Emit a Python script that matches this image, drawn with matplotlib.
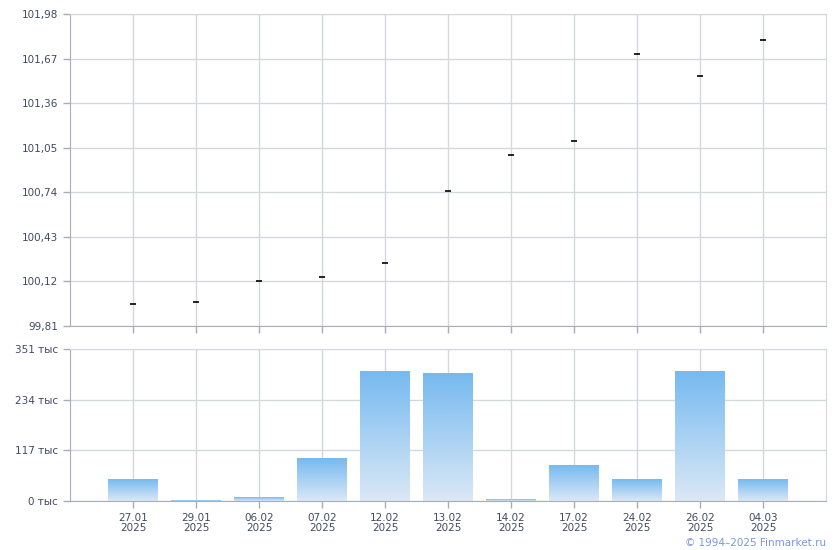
import matplotlib
matplotlib.use("Agg")
import matplotlib.pyplot as plt
import numpy as np
from matplotlib.colors import LinearSegmentedColormap

dates = ["27.01\n2025", "29.01\n2025", "06.02\n2025", "07.02\n2025", "12.02\n2025",
         "13.02\n2025", "14.02\n2025", "17.02\n2025", "24.02\n2025", "26.02\n2025", "04.03\n2025"]
prices = [99.96, 99.98, 100.12, 100.15, 100.25, 100.75, 101.00, 101.10, 101.70, 101.55, 101.80]
volumes = [48.5, 2, 7, 99, 300, 295.5, 4, 81, 48.5, 300, 48.5]  # thousands
price_ticks = [99.81, 100.12, 100.43, 100.74, 101.05, 101.36, 101.67, 101.98]
vol_ticks = [0, 117, 234, 351]

plt.rcParams['font.family'] = ['DejaVu Sans']
fig = plt.figure(figsize=(8.4, 5.5), dpi=100)
ax1 = fig.add_axes([70/840, 1-326/550, 756/840, 312/550])
ax2 = fig.add_axes([70/840, 1-501/550, 756/840, 152/550])

grid_c = "#d3d8dc"
spine_c = "#a9adb8"
text_c = "#404a60"
x = np.arange(len(dates))

for ax in (ax1, ax2):
    ax.set_xlim(-1, len(dates))
    ax.set_xticks(x)
    ax.grid(True, color=grid_c, linewidth=1)
    ax.set_axisbelow(True)
    for s in ("top", "right"):
        ax.spines[s].set_color(grid_c)
    for s in ("left", "bottom"):
        ax.spines[s].set_color(spine_c)
    ax.tick_params(axis="both", colors=spine_c, labelcolor=text_c, labelsize=7.5, length=5, width=1)

# Top: prices
ax1.plot(x, prices, linestyle="none", marker="_", markersize=5, markeredgewidth=1.2, color="black")
ax1.set_ylim(price_ticks[0], price_ticks[-1])
ax1.set_yticks(price_ticks)
ax1.set_yticklabels([f"{v:.2f}".replace(".", ",") for v in price_ticks])
ax1.set_xticklabels([])

# Bottom: volumes with gradient bars
cmap = LinearSegmentedColormap.from_list("g", ["#dbe8f6", "#76baf0"])
grad = np.linspace(0, 1, 256).reshape(-1, 1)
w = 0.79
for xi, v in zip(x, volumes):
    ax2.imshow(grad, extent=[xi - w/2, xi + w/2, 0, v], origin="lower", cmap=cmap,
               aspect="auto", zorder=2)
ax2.set_xlim(-1, len(dates))
ax2.set_ylim(vol_ticks[0], vol_ticks[-1])
ax2.set_yticks(vol_ticks)
ax2.set_yticklabels([f"{v} тыс" for v in vol_ticks])
ax2.set_xticklabels(dates, linespacing=1.0)

fig.text(826/840, 1-543/550, "© 1994–2025 Finmarket.ru", color="#7b97d8", fontsize=7.5,
         ha="right", va="center")

fig.savefig("out.png", dpi=100)
